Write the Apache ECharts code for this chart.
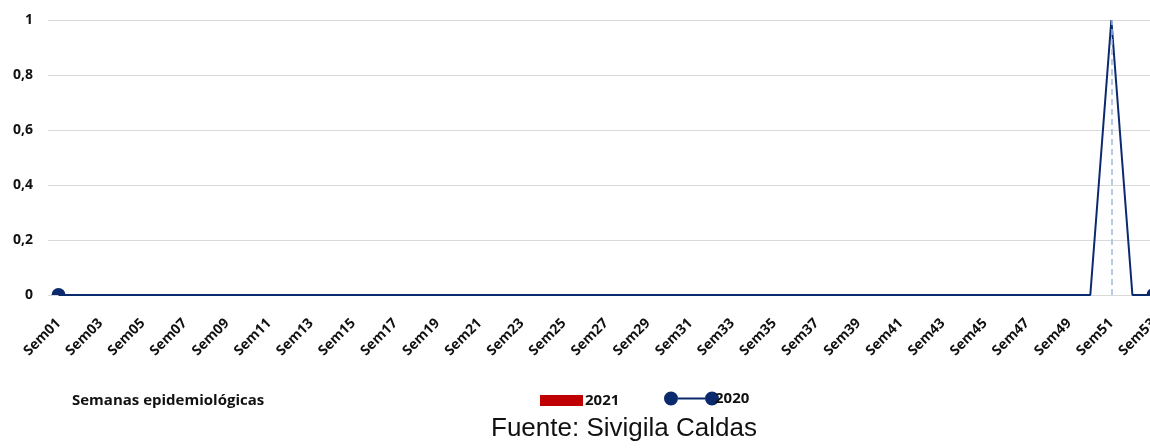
<!DOCTYPE html>
<html>
<head>
<meta charset="utf-8">
<script src="https://cdn.jsdelivr.net/npm/echarts@6/dist/echarts.min.js"></script>
<style>
  html, body { margin: 0; padding: 0; background: #fff; overflow: hidden; }
  #chart { width: 1164px; height: 448px; }
</style>
</head>
<body>
<div id="chart"></div>
<script>
// semanas epidemiologicas
var semanas = [];
for (var i = 1; i <= 53; i++) semanas.push('Sem' + (i < 10 ? '0' + i : i));

// casos por semana
var casos2021 = [0,0,0,0,0,0,0,0,0,0,0,0,0,0,0,0,0,0,0,0,0,0,0,0,0,0,0,0,0,0,0,0,0,0,0,0,0,0,0,0,0,0,0,0,0,0,0,0,0,0,0,0,0];
var casos2020 = [0,0,0,0,0,0,0,0,0,0,0,0,0,0,0,0,0,0,0,0,0,0,0,0,0,0,0,0,0,0,0,0,0,0,0,0,0,0,0,0,0,0,0,0,0,0,0,0,0,0,1,0,0];
var picoSemana = 'Sem51';

var yTicks = [0, 0.2, 0.4, 0.6, 0.8, 1];

var navy = '#0b2a6e';
var fuente = '"Open Sans", Lato, sans-serif';

var chartDom = document.getElementById('chart');
var myChart = echarts.init(chartDom);

// medio circulo: Excel recorta el marcador en el borde del area
var medioCirculo = 'path://M0,6A6,6 0 0,1 12,6Z';
var datos2020 = casos2020.map(function (v, idx) {
  var extremo = idx === 0 || idx === casos2020.length - 1;
  return extremo
    ? { value: v, symbol: medioCirculo, symbolSize: [14, 7], symbolOffset: [0, -3.5] }
    : { value: v, symbol: 'none' };
});

var legendText = { fontFamily: fuente, fontWeight: 'bold', fontSize: 15, color: '#111', padding: [0, 0, 0, -3] };

var option = {
  animation: false,
  textStyle: { fontFamily: fuente },
  grid: { left: 48, right: 0, top: 20, bottom: 153, containLabel: false },
  legend: [
    {
      left: 535,
      top: 388,
      itemWidth: 43,
      itemHeight: 11,
      textStyle: legendText,
      data: [{ name: '2021', icon: 'rect', itemStyle: { color: '#c00000' } }]
    },
    {
      left: 659,
      top: 386,
      itemWidth: 55,
      itemHeight: 14,
      textStyle: Object.assign({}, legendText, { padding: [0, 0, 0, -9] }),
      data: [{
        name: '2020',
        icon: 'path://M0,7a7,7 0 1,0 14,0a7,7 0 1,0 -14,0Z M41,7a7,7 0 1,0 14,0a7,7 0 1,0 -14,0Z M14,6L41,6L41,8L14,8Z',
        itemStyle: { color: navy }
      }]
    }
  ],
  xAxis: {
    type: 'category',
    data: semanas,
    boundaryGap: true,
    axisLine: { show: false },
    axisTick: { show: false },
    axisLabel: {
      interval: 1,
      rotate: 45,
      margin: 26,
      fontSize: 14,
      fontWeight: 'bold',
      color: '#111',
      fontFamily: fuente
    }
  },
  yAxis: {
    type: 'value',
    min: 0,
    max: 1,
    interval: 0.2,
    axisLine: { show: false },
    axisTick: { show: false },
    splitLine: { lineStyle: { color: '#d9d9d9', width: 1 } },
    axisLabel: {
      margin: 15,
      fontSize: 14,
      fontWeight: 'bold',
      color: '#111',
      fontFamily: fuente,
      formatter: function (v) {
        return yTicks.indexOf(+v.toFixed(1)) >= 0 ? String(+v.toFixed(1)).replace('.', ',') : '';
      }
    }
  },
  series: [
    {
      name: '2021',
      type: 'bar',
      data: casos2021,
      itemStyle: { color: '#c00000' },
      barWidth: '60%'
    },
    {
      name: '2020',
      type: 'line',
      data: datos2020,
      lineStyle: { color: navy, width: 2 },
      itemStyle: { color: navy },
      z: 3,
      markLine: {
        silent: true,
        symbol: ['none', 'none'],
        label: { show: false },
        lineStyle: { color: '#9dbbe6', type: [6, 4], width: 1.5 },
        data: [[{ coord: [picoSemana, 0] }, { coord: [picoSemana, 1] }]]
      }
    }
  ],
  graphic: [
    {
      type: 'text',
      left: 72,
      top: 393,
      style: { text: 'Semanas epidemiológicas', fontFamily: fuente, fontWeight: 'bold', fontSize: 15, fill: '#111' }
    },
    {
      type: 'text',
      left: 491,
      top: 416,
      style: { text: 'Fuente: Sivigila Caldas', fontFamily: '"Liberation Sans", Arial, sans-serif', fontSize: 26, fill: '#111' }
    }
  ]
};

option && myChart.setOption(option);
</script>
</body>
</html>
